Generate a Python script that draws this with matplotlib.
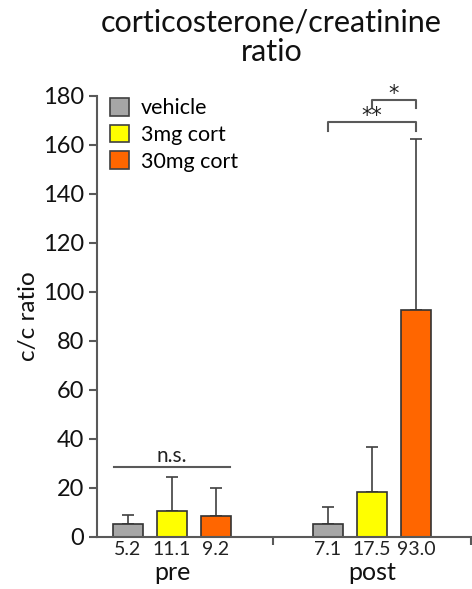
import numpy as np
import matplotlib.pyplot as plt

plt.rcParams['font.family'] = ['Lato', 'DejaVu Sans']

# data
groups = ['pre', 'post']
treatments = ['vehicle', '3mg cort', '30mg cort']
colors = ['#A6A6A6', '#FFFF00', '#FF6600']
means = {'pre': [5.3, 10.6, 8.6], 'post': [5.3, 18.4, 92.7]}
err_top = {'pre': [9.0, 24.5, 20.0], 'post': [12.2, 36.7, 162.5]}
value_labels = {'pre': ['5.2', '11.1', '9.2'], 'post': ['7.1', '17.5', '93.0']}

group_centers = [2.5, 9.17]
offset = 1.47
width = 1.0

fig = plt.figure(figsize=(4.72, 5.89), dpi=100)
ax = fig.add_axes([0.2055, 0.0883, 0.792, 0.749])

edge = '#333333'
tick_pos = []
tick_lab = []
for g, gc in zip(groups, group_centers):
    for i in range(3):
        x = gc + (i - 1) * offset
        m = means[g][i]
        ax.bar(x, m, width=width, color=colors[i], edgecolor=edge, linewidth=1.2,
               zorder=2, label=treatments[i] if g == 'pre' else None)
        ax.errorbar(x, m, yerr=[[0], [err_top[g][i] - m]], fmt='none',
                    ecolor='#404040', elinewidth=1.2, capsize=4, capthick=1.2, zorder=1)
        tick_pos.append(x)
        tick_lab.append(value_labels[g][i])

ax.set_xlim(0, 12.47)
ax.set_ylim(0, 180)
ax.set_yticks(np.arange(0, 181, 20))
ax.set_xticks(tick_pos)
ax.set_xticklabels(tick_lab, fontsize=14, color='#222222')
ax.set_xticks([5.87, 12.47], minor=True)
ax.tick_params(axis='x', which='major', length=0, pad=3)
ax.tick_params(axis='x', which='minor', length=6, width=1.5, color='#595959', direction='out')
ax.tick_params(axis='y', length=6, width=1.5, color='#595959', labelsize=17,
               labelcolor='#111111', pad=3)

for s in ['top', 'right']:
    ax.spines[s].set_visible(False)
for s in ['left', 'bottom']:
    ax.spines[s].set_color('#595959')
    ax.spines[s].set_linewidth(1.5)

ax.set_ylabel('c/c ratio', fontsize=17.5, color='#111111', labelpad=3)

for gc, g in zip(group_centers, groups):
    ax.text(gc, -0.055, g, transform=ax.get_xaxis_transform(), ha='center',
            va='top', fontsize=18, color='#111111')

# significance marks
line_c = '#595959'
ax.plot([0.57, 4.43], [28.6, 28.6], color=line_c, lw=1.5)
ax.text(2.5, 29.0, 'n.s.', ha='center', va='bottom', fontsize=15, color='#222222')

ax.plot([7.7, 7.7, 10.63, 10.63], [165.7, 169.4, 169.4, 165.7], color=line_c, lw=1.5, clip_on=False)
ax.text(9.17, 167.6, '**', ha='center', va='bottom', fontsize=15, color='#222222',
        family='DejaVu Sans')
ax.plot([9.17, 9.17, 10.63, 10.63], [175.1, 178.4, 178.4, 175.1], color=line_c, lw=1.5, clip_on=False)
ax.text(9.9, 176.8, '*', ha='center', va='bottom', fontsize=15, color='#222222',
        family='DejaVu Sans')

leg = ax.legend(loc='upper left', bbox_to_anchor=(0.0, 1.025), frameon=False,
                fontsize=15.5, handlelength=0.9, handleheight=0.9, handletextpad=0.55,
                labelspacing=0.3, borderaxespad=0.2)
for h in leg.legend_handles:
    h.set_edgecolor('#404040')

fig.text(0.575, 0.985, 'corticosterone/creatinine\nratio', ha='center', va='top',
         fontsize=22, linespacing=1.05, color='#111111')

fig.savefig('out.png', dpi=100)
